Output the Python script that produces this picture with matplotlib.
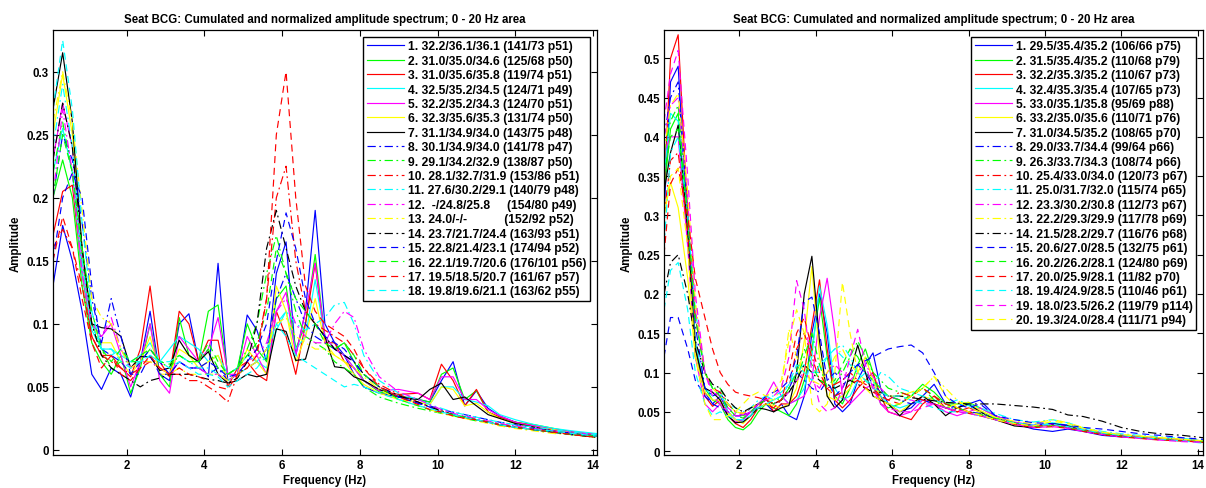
import matplotlib
matplotlib.use('Agg')
import matplotlib.pyplot as plt
from matplotlib.ticker import FuncFormatter

plt.rcParams['font.family'] = ['Liberation Sans', 'DejaVu Sans']
plt.rcParams['font.size'] = 8
plt.rcParams['font.weight'] = 'bold'

# ------------------------------------------------------------
# Data
# ------------------------------------------------------------
title = 'Seat BCG: Cumulated and normalized amplitude spectrum; 0 - 20 Hz area'

freq_left = [0.1, 0.35, 0.6, 0.85, 1.1, 1.35, 1.6, 1.85, 2.1, 2.35, 2.6, 2.85,
             3.1, 3.35, 3.6, 3.85, 4.1, 4.35, 4.6, 4.85, 5.1, 5.35, 5.6, 5.85,
             6.1, 6.35, 6.6, 6.85, 7.1, 7.35, 7.6, 7.85, 8.1, 8.5, 9.0, 9.5,
             9.8, 10.1, 10.4, 10.7, 11.0, 11.3, 11.6, 12.0, 12.5, 13.0, 13.5, 14.1]

labels_left = [
    '1. 32.2/36.1/36.1 (141/73 p51)',
    '2. 31.0/35.0/34.6 (125/68 p50)',
    '3. 31.0/35.6/35.8 (119/74 p51)',
    '4. 32.5/35.2/34.5 (124/71 p49)',
    '5. 32.2/35.2/34.3 (124/70 p51)',
    '6. 32.3/35.6/35.3 (131/74 p50)',
    '7. 31.1/34.9/34.0 (143/75 p48)',
    '8. 30.1/34.9/34.0 (141/78 p47)',
    '9. 29.1/34.2/32.9 (138/87 p50)',
    '10. 28.1/32.7/31.9 (153/86 p51)',
    '11. 27.6/30.2/29.1 (140/79 p48)',
    '12.  -/24.8/25.8     (154/80 p49)',
    '13. 24.0/-/-           (152/92 p52)',
    '14. 23.7/21.7/24.4 (163/93 p51)',
    '15. 22.8/21.4/23.1 (174/94 p52)',
    '16. 22.1/19.7/20.6 (176/101 p56)',
    '17. 19.5/18.5/20.7 (161/67 p57)',
    '18. 19.8/19.6/21.1 (163/62 p55)',
]

L1 = [0.13, 0.178, 0.15, 0.11, 0.06, 0.048, 0.065, 0.06, 0.042, 0.07, 0.11, 0.06, 0.055, 0.1, 0.108, 0.07, 0.058, 0.148, 0.055, 0.06, 0.107, 0.095, 0.07, 0.14, 0.165, 0.075, 0.11, 0.19, 0.1, 0.085, 0.075, 0.06, 0.05, 0.045, 0.042, 0.04, 0.038, 0.055, 0.07, 0.035, 0.047, 0.033, 0.027, 0.022, 0.018, 0.016, 0.014, 0.012]
L2 = [0.2, 0.23, 0.2, 0.13, 0.085, 0.07, 0.06, 0.075, 0.045, 0.065, 0.1, 0.06, 0.05, 0.105, 0.075, 0.07, 0.11, 0.115, 0.06, 0.065, 0.1, 0.08, 0.07, 0.12, 0.13, 0.08, 0.1, 0.155, 0.09, 0.08, 0.085, 0.07, 0.055, 0.046, 0.043, 0.04, 0.038, 0.06, 0.065, 0.04, 0.047, 0.03, 0.026, 0.022, 0.02, 0.017, 0.014, 0.012]
L3 = [0.17, 0.205, 0.21, 0.14, 0.09, 0.075, 0.075, 0.065, 0.058, 0.08, 0.13, 0.07, 0.058, 0.11, 0.1, 0.07, 0.087, 0.087, 0.05, 0.065, 0.07, 0.06, 0.055, 0.11, 0.09, 0.06, 0.1, 0.148, 0.085, 0.085, 0.07, 0.065, 0.055, 0.047, 0.044, 0.045, 0.04, 0.068, 0.055, 0.035, 0.048, 0.03, 0.026, 0.022, 0.019, 0.016, 0.014, 0.012]
L4 = [0.22, 0.255, 0.22, 0.14, 0.095, 0.08, 0.08, 0.075, 0.07, 0.075, 0.085, 0.07, 0.08, 0.09, 0.085, 0.08, 0.07, 0.075, 0.06, 0.065, 0.075, 0.07, 0.065, 0.095, 0.11, 0.08, 0.09, 0.135, 0.09, 0.08, 0.075, 0.065, 0.055, 0.047, 0.043, 0.04, 0.036, 0.05, 0.05, 0.04, 0.038, 0.035, 0.028, 0.024, 0.02, 0.017, 0.015, 0.013]
L5 = [0.23, 0.275, 0.24, 0.15, 0.1, 0.09, 0.1, 0.075, 0.05, 0.07, 0.1, 0.055, 0.045, 0.09, 0.08, 0.07, 0.08, 0.105, 0.06, 0.06, 0.09, 0.075, 0.06, 0.11, 0.125, 0.075, 0.11, 0.148, 0.09, 0.08, 0.075, 0.065, 0.055, 0.047, 0.048, 0.045, 0.04, 0.058, 0.058, 0.04, 0.04, 0.032, 0.027, 0.022, 0.019, 0.016, 0.014, 0.012]
L6 = [0.25, 0.298, 0.25, 0.16, 0.1, 0.085, 0.085, 0.07, 0.06, 0.07, 0.09, 0.06, 0.06, 0.08, 0.075, 0.065, 0.07, 0.075, 0.055, 0.06, 0.08, 0.07, 0.06, 0.13, 0.11, 0.07, 0.09, 0.12, 0.085, 0.075, 0.07, 0.06, 0.052, 0.045, 0.04, 0.038, 0.036, 0.05, 0.048, 0.035, 0.037, 0.03, 0.025, 0.021, 0.018, 0.016, 0.013, 0.011]
L7 = [0.27, 0.315, 0.26, 0.16, 0.1, 0.097, 0.096, 0.09, 0.065, 0.074, 0.074, 0.063, 0.065, 0.087, 0.075, 0.07, 0.078, 0.06, 0.053, 0.055, 0.06, 0.058, 0.06, 0.096, 0.094, 0.071, 0.072, 0.1, 0.09, 0.066, 0.065, 0.058, 0.055, 0.048, 0.042, 0.04, 0.048, 0.053, 0.04, 0.042, 0.035, 0.028, 0.025, 0.021, 0.018, 0.015, 0.013, 0.011]
L8 = [0.2, 0.25, 0.23, 0.18, 0.12, 0.085, 0.12, 0.09, 0.06, 0.06, 0.075, 0.06, 0.06, 0.07, 0.065, 0.065, 0.06, 0.065, 0.055, 0.06, 0.065, 0.07, 0.08, 0.12, 0.14, 0.12, 0.1, 0.09, 0.085, 0.08, 0.075, 0.07, 0.06, 0.05, 0.042, 0.037, 0.035, 0.032, 0.03, 0.028, 0.026, 0.024, 0.022, 0.02, 0.017, 0.015, 0.013, 0.011]
L9 = [0.22, 0.26, 0.22, 0.15, 0.1, 0.08, 0.065, 0.07, 0.07, 0.07, 0.08, 0.07, 0.065, 0.075, 0.07, 0.07, 0.08, 0.065, 0.06, 0.065, 0.08, 0.1, 0.14, 0.17, 0.14, 0.11, 0.09, 0.085, 0.08, 0.07, 0.065, 0.06, 0.05, 0.042, 0.037, 0.033, 0.031, 0.029, 0.027, 0.025, 0.023, 0.022, 0.02, 0.018, 0.016, 0.014, 0.012, 0.01]
L10 = [0.16, 0.175, 0.16, 0.13, 0.09, 0.075, 0.07, 0.065, 0.06, 0.065, 0.07, 0.065, 0.06, 0.06, 0.055, 0.055, 0.05, 0.045, 0.038, 0.06, 0.07, 0.08, 0.12, 0.2, 0.225, 0.15, 0.11, 0.1, 0.095, 0.09, 0.085, 0.075, 0.065, 0.052, 0.044, 0.038, 0.034, 0.031, 0.028, 0.026, 0.024, 0.022, 0.02, 0.018, 0.016, 0.014, 0.012, 0.01]
L11 = [0.24, 0.29, 0.24, 0.15, 0.1, 0.08, 0.075, 0.08, 0.07, 0.07, 0.075, 0.07, 0.07, 0.075, 0.07, 0.065, 0.065, 0.06, 0.055, 0.06, 0.065, 0.07, 0.08, 0.1, 0.11, 0.1, 0.095, 0.1, 0.105, 0.115, 0.117, 0.1, 0.075, 0.055, 0.045, 0.04, 0.036, 0.033, 0.03, 0.028, 0.026, 0.024, 0.022, 0.02, 0.018, 0.016, 0.014, 0.012]
L12 = [0.2, 0.27, 0.22, 0.14, 0.1, 0.09, 0.105, 0.08, 0.065, 0.07, 0.07, 0.065, 0.06, 0.07, 0.065, 0.065, 0.06, 0.06, 0.055, 0.06, 0.07, 0.075, 0.085, 0.11, 0.12, 0.1, 0.09, 0.085, 0.085, 0.1, 0.11, 0.105, 0.08, 0.058, 0.046, 0.04, 0.036, 0.032, 0.029, 0.027, 0.025, 0.023, 0.021, 0.019, 0.017, 0.015, 0.013, 0.011]
L13 = [0.26, 0.3, 0.26, 0.19, 0.12, 0.105, 0.1, 0.08, 0.065, 0.07, 0.07, 0.065, 0.06, 0.065, 0.06, 0.06, 0.06, 0.06, 0.055, 0.06, 0.065, 0.07, 0.08, 0.1, 0.105, 0.09, 0.085, 0.08, 0.08, 0.075, 0.07, 0.065, 0.058, 0.048, 0.04, 0.035, 0.032, 0.029, 0.027, 0.025, 0.023, 0.021, 0.019, 0.017, 0.015, 0.013, 0.012, 0.01]
L14 = [0.23, 0.275, 0.24, 0.16, 0.1, 0.075, 0.065, 0.06, 0.055, 0.05, 0.055, 0.057, 0.06, 0.06, 0.06, 0.058, 0.056, 0.055, 0.053, 0.057, 0.07, 0.1, 0.16, 0.19, 0.16, 0.13, 0.11, 0.1, 0.09, 0.08, 0.075, 0.07, 0.06, 0.05, 0.043, 0.038, 0.034, 0.031, 0.028, 0.026, 0.024, 0.022, 0.02, 0.018, 0.016, 0.014, 0.012, 0.01]
L15 = [0.15, 0.2, 0.22, 0.2, 0.13, 0.08, 0.075, 0.07, 0.06, 0.07, 0.08, 0.07, 0.06, 0.07, 0.065, 0.065, 0.07, 0.065, 0.058, 0.06, 0.07, 0.08, 0.1, 0.15, 0.188, 0.16, 0.12, 0.1, 0.09, 0.085, 0.08, 0.07, 0.06, 0.05, 0.042, 0.037, 0.034, 0.03, 0.028, 0.026, 0.024, 0.022, 0.02, 0.018, 0.016, 0.014, 0.012, 0.011]
L16 = [0.2, 0.25, 0.22, 0.16, 0.11, 0.08, 0.07, 0.08, 0.07, 0.075, 0.08, 0.07, 0.068, 0.075, 0.07, 0.07, 0.085, 0.07, 0.06, 0.065, 0.075, 0.085, 0.11, 0.16, 0.14, 0.12, 0.11, 0.1, 0.085, 0.08, 0.085, 0.075, 0.06, 0.05, 0.04, 0.035, 0.032, 0.03, 0.028, 0.026, 0.024, 0.022, 0.02, 0.018, 0.016, 0.014, 0.012, 0.011]
L17 = [0.15, 0.185, 0.16, 0.12, 0.085, 0.065, 0.075, 0.06, 0.055, 0.065, 0.075, 0.065, 0.06, 0.065, 0.06, 0.058, 0.055, 0.05, 0.048, 0.06, 0.065, 0.075, 0.12, 0.25, 0.3, 0.2, 0.13, 0.11, 0.1, 0.095, 0.09, 0.08, 0.065, 0.05, 0.042, 0.036, 0.032, 0.03, 0.027, 0.025, 0.024, 0.022, 0.02, 0.018, 0.016, 0.014, 0.012, 0.01]
L18 = [0.27, 0.325, 0.27, 0.18, 0.11, 0.08, 0.08, 0.07, 0.065, 0.07, 0.075, 0.07, 0.065, 0.07, 0.065, 0.06, 0.06, 0.058, 0.05, 0.055, 0.06, 0.065, 0.075, 0.1, 0.09, 0.075, 0.07, 0.065, 0.06, 0.055, 0.05, 0.052, 0.05, 0.045, 0.04, 0.035, 0.033, 0.03, 0.028, 0.026, 0.024, 0.022, 0.02, 0.018, 0.016, 0.015, 0.013, 0.011]

freq_right = [0.03, 0.2, 0.4, 0.65, 0.85, 1.1, 1.3, 1.5, 1.7, 1.9, 2.1, 2.3,
              2.5, 2.7, 2.9, 3.1, 3.3, 3.5, 3.7, 3.9, 4.1, 4.3, 4.5, 4.7,
              4.9, 5.1, 5.3, 5.5, 5.7, 5.9, 6.2, 6.5, 6.8, 7.1, 7.4, 7.7,
              8.0, 8.3, 8.7, 9.2, 9.7, 10.2, 10.6, 11.0, 11.5, 12.0, 12.5, 13.0, 13.6, 14.14]

labels_right = [
    '1. 29.5/35.4/35.2 (106/66 p75)',
    '2. 31.5/35.4/35.2 (110/68 p79)',
    '3. 32.2/35.3/35.2 (110/67 p73)',
    '4. 32.4/35.3/35.4 (107/65 p73)',
    '5. 33.0/35.1/35.8 (95/69 p88)',
    '6. 33.2/35.0/35.6 (110/71 p76)',
    '7. 31.0/34.5/35.2 (108/65 p70)',
    '8. 29.0/33.7/34.4 (99/64 p66)',
    '9. 26.3/33.7/34.3 (108/74 p66)',
    '10. 25.4/33.0/34.0 (120/73 p67)',
    '11. 25.0/31.7/32.0 (115/74 p65)',
    '12. 23.3/30.2/30.8 (112/73 p67)',
    '13. 22.2/29.3/29.9 (117/78 p69)',
    '14. 21.5/28.2/29.7 (116/76 p68)',
    '15. 20.6/27.0/28.5 (132/75 p61)',
    '16. 20.2/26.2/28.1 (124/80 p69)',
    '17. 20.0/25.9/28.1 (11/82 p70)',
    '18. 19.4/24.9/28.5 (110/46 p61)',
    '19. 18.0/23.5/26.2 (119/79 p114)',
    '20. 19.3/24.0/28.4 (111/71 p94)',
]

R1 = [0.3, 0.47, 0.49, 0.28, 0.12, 0.075, 0.06, 0.07, 0.05, 0.04, 0.04, 0.05, 0.055, 0.06, 0.05, 0.06, 0.045, 0.04, 0.07, 0.15, 0.2, 0.15, 0.06, 0.05, 0.06, 0.09, 0.11, 0.125, 0.08, 0.06, 0.05, 0.055, 0.07, 0.085, 0.06, 0.055, 0.06, 0.065, 0.045, 0.035, 0.028, 0.025, 0.028, 0.025, 0.02, 0.018, 0.017, 0.016, 0.015, 0.013]
R2 = [0.33, 0.41, 0.43, 0.27, 0.13, 0.08, 0.065, 0.06, 0.04, 0.03, 0.027, 0.035, 0.05, 0.06, 0.055, 0.05, 0.045, 0.06, 0.09, 0.13, 0.195, 0.12, 0.07, 0.06, 0.08, 0.11, 0.13, 0.1, 0.06, 0.055, 0.06, 0.07, 0.085, 0.075, 0.06, 0.06, 0.062, 0.055, 0.045, 0.036, 0.032, 0.035, 0.03, 0.026, 0.022, 0.019, 0.017, 0.016, 0.014, 0.013]
R3 = [0.33, 0.5, 0.53, 0.3, 0.14, 0.07, 0.057, 0.065, 0.045, 0.035, 0.03, 0.04, 0.055, 0.068, 0.05, 0.06, 0.06, 0.07, 0.1, 0.16, 0.218, 0.13, 0.065, 0.055, 0.065, 0.08, 0.09, 0.1, 0.07, 0.05, 0.045, 0.04, 0.06, 0.07, 0.055, 0.05, 0.055, 0.05, 0.042, 0.035, 0.03, 0.035, 0.03, 0.027, 0.022, 0.02, 0.018, 0.016, 0.014, 0.012]
R4 = [0.35, 0.43, 0.42, 0.29, 0.14, 0.08, 0.07, 0.075, 0.05, 0.04, 0.038, 0.045, 0.06, 0.07, 0.065, 0.07, 0.06, 0.065, 0.08, 0.12, 0.21, 0.16, 0.08, 0.065, 0.07, 0.09, 0.1, 0.09, 0.07, 0.06, 0.055, 0.06, 0.065, 0.06, 0.055, 0.06, 0.058, 0.05, 0.043, 0.036, 0.032, 0.036, 0.033, 0.028, 0.023, 0.02, 0.018, 0.016, 0.014, 0.013]
R5 = [0.38, 0.4, 0.4, 0.26, 0.12, 0.06, 0.05, 0.06, 0.045, 0.037, 0.04, 0.05, 0.06, 0.07, 0.088, 0.07, 0.06, 0.065, 0.07, 0.09, 0.17, 0.22, 0.15, 0.07, 0.06, 0.07, 0.08, 0.085, 0.06, 0.05, 0.045, 0.05, 0.065, 0.06, 0.05, 0.045, 0.05, 0.055, 0.045, 0.037, 0.033, 0.034, 0.03, 0.026, 0.022, 0.019, 0.017, 0.015, 0.014, 0.012]
R6 = [0.3, 0.342, 0.31, 0.22, 0.12, 0.075, 0.065, 0.065, 0.048, 0.04, 0.035, 0.045, 0.055, 0.06, 0.058, 0.055, 0.06, 0.08, 0.14, 0.235, 0.12, 0.07, 0.065, 0.07, 0.08, 0.1, 0.12, 0.09, 0.065, 0.06, 0.05, 0.06, 0.07, 0.065, 0.055, 0.06, 0.062, 0.052, 0.043, 0.035, 0.03, 0.033, 0.032, 0.027, 0.022, 0.02, 0.018, 0.016, 0.014, 0.012]
R7 = [0.33, 0.38, 0.415, 0.28, 0.13, 0.08, 0.075, 0.065, 0.045, 0.036, 0.037, 0.045, 0.055, 0.053, 0.05, 0.055, 0.058, 0.1, 0.2, 0.248, 0.14, 0.07, 0.055, 0.065, 0.1, 0.135, 0.1, 0.07, 0.065, 0.06, 0.045, 0.06, 0.07, 0.06, 0.045, 0.055, 0.06, 0.05, 0.04, 0.032, 0.03, 0.035, 0.032, 0.026, 0.021, 0.019, 0.017, 0.015, 0.013, 0.012]
R8 = [0.4, 0.45, 0.47, 0.3, 0.16, 0.08, 0.07, 0.075, 0.055, 0.045, 0.045, 0.055, 0.06, 0.065, 0.06, 0.065, 0.08, 0.1, 0.09, 0.08, 0.075, 0.09, 0.1, 0.09, 0.1, 0.11, 0.1, 0.085, 0.075, 0.07, 0.065, 0.06, 0.065, 0.06, 0.055, 0.055, 0.05, 0.048, 0.042, 0.036, 0.033, 0.034, 0.031, 0.027, 0.023, 0.02, 0.018, 0.016, 0.014, 0.013]
R9 = [0.38, 0.42, 0.44, 0.3, 0.17, 0.1, 0.08, 0.08, 0.06, 0.05, 0.045, 0.05, 0.06, 0.065, 0.06, 0.07, 0.075, 0.09, 0.12, 0.15, 0.11, 0.08, 0.085, 0.1, 0.12, 0.14, 0.12, 0.1, 0.09, 0.08, 0.075, 0.07, 0.08, 0.065, 0.055, 0.055, 0.05, 0.047, 0.042, 0.036, 0.032, 0.033, 0.03, 0.026, 0.022, 0.02, 0.018, 0.016, 0.014, 0.012]
R10 = [0.3, 0.37, 0.38, 0.28, 0.17, 0.1, 0.08, 0.075, 0.06, 0.05, 0.048, 0.055, 0.06, 0.06, 0.055, 0.065, 0.08, 0.13, 0.15, 0.12, 0.09, 0.08, 0.085, 0.09, 0.1, 0.09, 0.085, 0.08, 0.07, 0.065, 0.075, 0.07, 0.065, 0.06, 0.055, 0.05, 0.048, 0.045, 0.04, 0.035, 0.032, 0.033, 0.03, 0.027, 0.023, 0.02, 0.018, 0.016, 0.014, 0.012]
R11 = [0.26, 0.38, 0.4, 0.3, 0.18, 0.1, 0.08, 0.07, 0.06, 0.055, 0.05, 0.055, 0.065, 0.07, 0.07, 0.075, 0.085, 0.1, 0.11, 0.1, 0.1, 0.12, 0.13, 0.135, 0.12, 0.1, 0.09, 0.085, 0.1, 0.095, 0.08, 0.075, 0.07, 0.065, 0.06, 0.065, 0.06, 0.055, 0.048, 0.04, 0.037, 0.04, 0.036, 0.03, 0.025, 0.022, 0.02, 0.018, 0.016, 0.014]
R12 = [0.4, 0.44, 0.45, 0.32, 0.18, 0.1, 0.075, 0.07, 0.055, 0.048, 0.046, 0.05, 0.06, 0.065, 0.06, 0.065, 0.075, 0.09, 0.1, 0.09, 0.08, 0.1, 0.11, 0.1, 0.09, 0.1, 0.11, 0.095, 0.08, 0.07, 0.065, 0.065, 0.06, 0.06, 0.055, 0.052, 0.05, 0.046, 0.04, 0.035, 0.032, 0.034, 0.031, 0.027, 0.023, 0.02, 0.018, 0.016, 0.014, 0.012]
R13 = [0.38, 0.44, 0.455, 0.33, 0.19, 0.1, 0.08, 0.07, 0.06, 0.05, 0.048, 0.055, 0.06, 0.065, 0.065, 0.08, 0.155, 0.12, 0.1, 0.09, 0.085, 0.1, 0.12, 0.13, 0.11, 0.1, 0.09, 0.08, 0.075, 0.07, 0.07, 0.075, 0.08, 0.095, 0.08, 0.065, 0.055, 0.05, 0.043, 0.038, 0.035, 0.04, 0.036, 0.03, 0.024, 0.021, 0.019, 0.017, 0.015, 0.013]
R14 = [0.2, 0.24, 0.25, 0.2, 0.14, 0.1, 0.085, 0.08, 0.065, 0.055, 0.05, 0.055, 0.06, 0.065, 0.06, 0.065, 0.075, 0.09, 0.11, 0.1, 0.09, 0.085, 0.08, 0.085, 0.09, 0.085, 0.08, 0.075, 0.075, 0.07, 0.07, 0.068, 0.066, 0.064, 0.062, 0.061, 0.06, 0.06, 0.06, 0.058, 0.056, 0.053, 0.046, 0.044, 0.038, 0.03, 0.025, 0.022, 0.02, 0.017]
R15 = [0.12, 0.17, 0.17, 0.13, 0.09, 0.07, 0.06, 0.055, 0.05, 0.045, 0.045, 0.05, 0.06, 0.07, 0.075, 0.08, 0.09, 0.12, 0.19, 0.196, 0.15, 0.09, 0.07, 0.08, 0.1, 0.11, 0.115, 0.12, 0.125, 0.13, 0.133, 0.135, 0.125, 0.1, 0.07, 0.06, 0.055, 0.06, 0.045, 0.04, 0.036, 0.035, 0.033, 0.03, 0.028, 0.025, 0.022, 0.02, 0.017, 0.015]
R16 = [0.35, 0.4, 0.41, 0.3, 0.17, 0.1, 0.08, 0.07, 0.055, 0.045, 0.042, 0.05, 0.06, 0.065, 0.06, 0.065, 0.08, 0.1, 0.13, 0.11, 0.09, 0.085, 0.09, 0.11, 0.13, 0.12, 0.1, 0.09, 0.08, 0.07, 0.065, 0.07, 0.08, 0.07, 0.06, 0.055, 0.05, 0.046, 0.04, 0.035, 0.031, 0.032, 0.03, 0.026, 0.022, 0.019, 0.017, 0.015, 0.013, 0.012]
R17 = [0.25, 0.34, 0.36, 0.3, 0.22, 0.17, 0.13, 0.1, 0.085, 0.075, 0.072, 0.07, 0.068, 0.065, 0.06, 0.065, 0.1, 0.15, 0.17, 0.13, 0.1, 0.08, 0.07, 0.075, 0.085, 0.09, 0.08, 0.075, 0.07, 0.065, 0.06, 0.07, 0.08, 0.07, 0.06, 0.055, 0.05, 0.045, 0.04, 0.034, 0.03, 0.031, 0.029, 0.025, 0.021, 0.018, 0.016, 0.014, 0.013, 0.011]
R18 = [0.18, 0.23, 0.24, 0.18, 0.1, 0.06, 0.045, 0.05, 0.045, 0.04, 0.04, 0.045, 0.055, 0.06, 0.065, 0.07, 0.085, 0.11, 0.1, 0.09, 0.11, 0.12, 0.13, 0.12, 0.11, 0.1, 0.09, 0.08, 0.075, 0.07, 0.07, 0.065, 0.06, 0.055, 0.05, 0.05, 0.048, 0.045, 0.04, 0.036, 0.033, 0.034, 0.031, 0.027, 0.023, 0.02, 0.017, 0.015, 0.013, 0.01]
R19 = [0.42, 0.48, 0.51, 0.35, 0.2, 0.1, 0.07, 0.06, 0.05, 0.045, 0.045, 0.05, 0.06, 0.065, 0.07, 0.08, 0.12, 0.217, 0.18, 0.1, 0.06, 0.05, 0.055, 0.08, 0.12, 0.155, 0.11, 0.08, 0.06, 0.055, 0.05, 0.05, 0.055, 0.06, 0.055, 0.05, 0.048, 0.045, 0.04, 0.034, 0.03, 0.031, 0.029, 0.025, 0.021, 0.018, 0.016, 0.014, 0.012, 0.011]
R20 = [0.3, 0.35, 0.36, 0.26, 0.12, 0.06, 0.04, 0.04, 0.045, 0.05, 0.06, 0.07, 0.075, 0.07, 0.075, 0.09, 0.14, 0.18, 0.15, 0.06, 0.05, 0.06, 0.1, 0.215, 0.15, 0.1, 0.08, 0.07, 0.065, 0.06, 0.06, 0.07, 0.08, 0.095, 0.07, 0.055, 0.05, 0.046, 0.04, 0.035, 0.032, 0.038, 0.035, 0.029, 0.024, 0.021, 0.019, 0.017, 0.015, 0.013]

series_left = [L1, L2, L3, L4, L5, L6, L7, L8, L9, L10, L11, L12, L13, L14, L15, L16, L17, L18]
series_right = [R1, R2, R3, R4, R5, R6, R7, R8, R9, R10, R11, R12, R13, R14,
                R15, R16, R17, R18, R19, R20]

# MATLAB-like colour / line style cycle
colors = ['#0000ff', '#00ff00', '#ff0000', '#00ffff', '#ff00ff', '#ffff00', '#000000']
styles = ['-'] * 7 + [(0, (7, 3, 1.5, 3))] * 7 + [(0, (6, 4))] * 7


def draw_panel(ax, freq, series, labels, ylim, yticks, xlim):
    for i, (vals, lab) in enumerate(zip(series, labels)):
        ax.plot(freq, vals, color=colors[i % 7], linestyle=styles[i],
                linewidth=0.85, label=lab)
    ax.set_xlim(*xlim)
    ax.set_ylim(*ylim)
    ax.set_xticks([2, 4, 6, 8, 10, 12, 14])
    ax.set_yticks(yticks)
    ax.yaxis.set_major_formatter(FuncFormatter(lambda v, p: '%g' % round(v, 3)))
    ax.tick_params(direction='in', top=True, right=True, length=4,
                   width=0.8, labelsize=8.3, pad=3)
    for sp in ax.spines.values():
        sp.set_linewidth(0.9)
    ax.set_xlabel('Frequency (Hz)', fontsize=8.3, fontweight='bold', labelpad=2)
    ax.set_ylabel('Amplitude', fontsize=8.3, fontweight='bold', labelpad=3)
    ax.set_title(title, fontsize=8.3, fontweight='bold', pad=6)
    leg = ax.legend(loc='upper right', fontsize=8.7, frameon=True, fancybox=False,
                    edgecolor='black', framealpha=1, handlelength=3.1,
                    handletextpad=0.3, labelspacing=0.2, borderpad=0.3,
                    borderaxespad=0.55)
    leg.get_frame().set_linewidth(1.0)


fig = plt.figure(figsize=(12.06, 4.89), dpi=100)
ax_left = fig.add_axes([0.0439, 0.0675, 0.451, 0.869])
ax_right = fig.add_axes([0.5506, 0.0675, 0.447, 0.869])

draw_panel(ax_left, freq_left, series_left, labels_left,
           (-0.004, 0.333), [0, 0.05, 0.1, 0.15, 0.2, 0.25, 0.3], (0.1, 14.1))
draw_panel(ax_right, freq_right, series_right, labels_right,
           (-0.005, 0.536), [0, 0.05, 0.1, 0.15, 0.2, 0.25, 0.3, 0.35, 0.4, 0.45, 0.5],
           (0.03, 14.14))

fig.savefig('out.png', dpi=100)
